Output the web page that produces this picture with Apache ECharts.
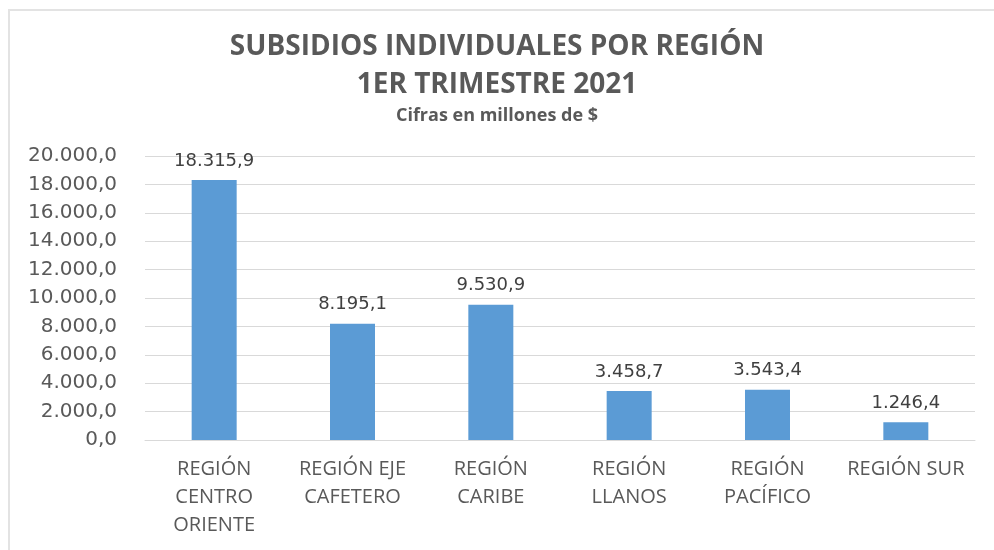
<!DOCTYPE html>
<html>
<head>
<meta charset="utf-8">
<script src="https://cdn.jsdelivr.net/npm/echarts@6/dist/echarts.min.js"></script>
<style>
  html, body { margin: 0; padding: 0; background: #fff; }
  .frame {
    position: absolute; left: 8px; top: 9px; width: 1000px; height: 560px;
    border-left: 2px solid #e3e3e3; border-top: 2px solid #e3e3e3;
  }
  #chart { position: absolute; left: 0; top: 0; width: 994px; height: 550px; }
</style>
</head>
<body>
<div class="frame"></div>
<div id="chart"></div>
<script>
const categories = [
  'REGIÓN\nCENTRO\nORIENTE',
  'REGIÓN EJE\nCAFETERO',
  'REGIÓN\nCARIBE',
  'REGIÓN\nLLANOS',
  'REGIÓN\nPACÍFICO',
  'REGIÓN SUR'
]
const values = [18315.9, 8195.1, 9530.9, 3458.7, 3543.4, 1246.4]
const yTicks = { min: 0, max: 20000, interval: 2000 }

// formato es-CO: miles con punto, decimal con coma
const fmt = (v) => {
  const parts = Number(v).toFixed(1).split('.')
  parts[0] = parts[0].replace(/\B(?=(\d{3})+(?!\d))/g, '.')
  return parts.join(',')
}

const chart = echarts.init(document.getElementById('chart'))
const titleFont = "'Open Sans', sans-serif"
const numFont = "'DejaVu Sans', sans-serif"

chart.setOption({
  backgroundColor: 'transparent',
  animation: false,
  title: [
    {
      text: 'SUBSIDIOS INDIVIDUALES POR REGIÓN',
      left: 'center', top: 28,
      textStyle: { color: '#595959', fontSize: 28, fontWeight: 'bold', fontFamily: titleFont }
    },
    {
      text: '1ER TRIMESTRE 2021',
      left: 'center', top: 66,
      textStyle: { color: '#595959', fontSize: 28, fontWeight: 'bold', fontFamily: titleFont }
    },
    {
      text: 'Cifras en millones de $',
      left: 'center', top: 102,
      textStyle: { color: '#595959', fontSize: 18, fontWeight: 'bold', fontFamily: titleFont }
    }
  ],
  grid: { left: 145, right: 19, top: 156, bottom: 110 },
  xAxis: {
    type: 'category',
    data: categories,
    axisLine: { lineStyle: { color: '#d9d9d9', width: 1 } },
    axisTick: { show: false },
    axisLabel: {
      color: '#595959', fontSize: 20, lineHeight: 28, margin: 15,
      fontFamily: titleFont, interval: 0
    }
  },
  yAxis: {
    type: 'value',
    min: yTicks.min, max: yTicks.max, interval: yTicks.interval,
    axisLine: { show: false },
    axisTick: { show: false },
    splitLine: { lineStyle: { color: '#d9d9d9', width: 1 } },
    axisLabel: {
      color: '#595959', fontSize: 20, margin: 28,
      fontFamily: numFont,
      formatter: (v) => fmt(v)
    }
  },
  series: [
    {
      type: 'bar',
      data: values,
      barWidth: 45,
      itemStyle: { color: '#5b9bd5' },
      label: {
        show: true, position: 'top', distance: 10,
        color: '#404040', fontSize: 18,
        fontFamily: numFont,
        formatter: (p) => fmt(p.value)
      }
    }
  ]
})
</script>
</body>
</html>
